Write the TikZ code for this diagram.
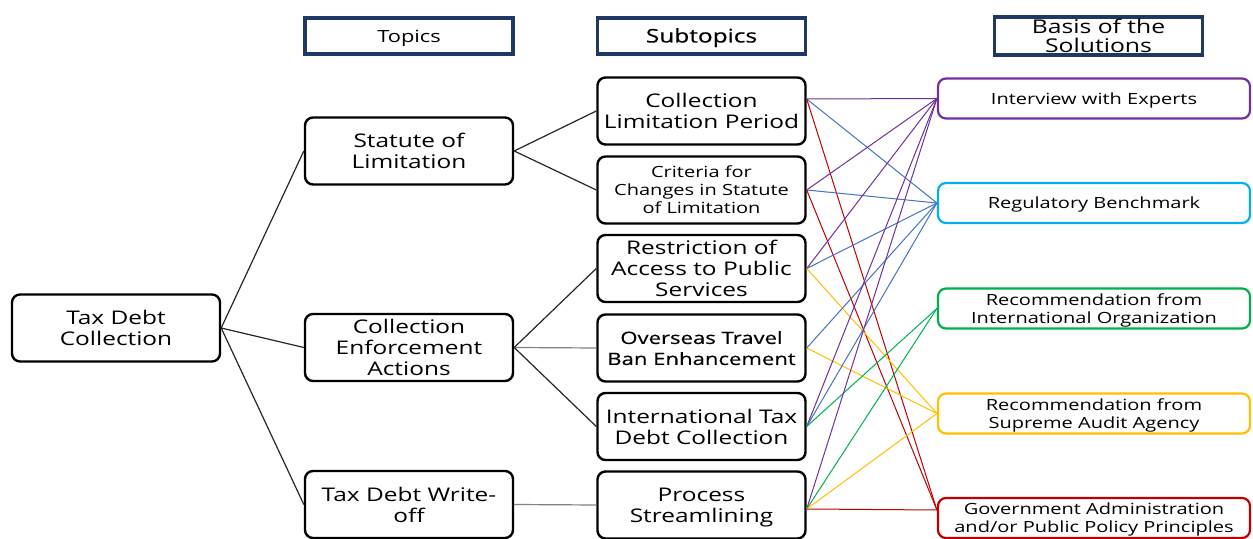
\documentclass[tikz,border=0pt]{standalone}
\usepackage{fontspec}
\setmainfont{Open Sans}[FakeStretch=1.3]
\newfontfamily\semib{Open Sans}[FakeStretch=1.3, FakeBold=0.35]
\usepackage{tikz}
\usetikzlibrary{calc}
\definecolor{navy}{HTML}{1F3864}
\definecolor{cpurple}{HTML}{7030A0}
\definecolor{cblue}{HTML}{4472C4}
\definecolor{ccyan}{HTML}{00B0F0}
\definecolor{cgreen}{HTML}{00B050}
\definecolor{cyellow}{HTML}{FFC000}
\definecolor{cred}{HTML}{C00000}

\begin{document}
\begin{tikzpicture}[x=0.5pt, y=-0.5pt,
  hdr/.style={draw=navy, line width=1.7pt, minimum width=104pt, minimum height=18pt, inner sep=1pt, align=center},
  box/.style={draw, line width=1.2pt, rounded corners=4pt, minimum width=104pt, minimum height=33.5pt, inner sep=1pt, align=center, text depth=0pt, font=\fontsize{9.4}{10.5}\selectfont},
  sol/.style={line width=1.1pt, rounded corners=4pt, minimum width=156pt, minimum height=20pt, inner sep=1pt, align=center, text depth=-0.6pt, font=\fontsize{7.7}{9}\selectfont},
  branch/.style={line width=0.6pt, black!85},
  flat/.style={line width=0.6pt, black!50},
  link/.style={line width=0.5pt}]

\useasboundingbox (0,0) rectangle (1253,539);

\node[hdr, text height=6.5pt, text depth=0pt, font=\fontsize{8.4}{10}\selectfont] (hT) at (409,36) {Topics};
\node[hdr, text height=6.5pt, text depth=0pt, font=\semib\fontsize{9.4}{10}\selectfont] (hS) at (701.5,36) {Subtopics};
\node[hdr, font=\fontsize{9.5}{9.6}\selectfont] (hB) at (1098.5,36) {Basis of the\\Solutions};

\node[box] (tdc) at (116,328) {Tax Debt\\Collection};

\node[box] (stl) at (409,151) {Statute of\\Limitation};
\node[box] (cea) at (409,347.5) {Collection\\Enforcement\\Actions};
\node[box] (tdw) at (409,504.5) {Tax Debt Write-\\off};

\node[box] (clp) at (701.5,111) {Collection\\Limitation Period};
\node[box, font=\fontsize{7.7}{9}\selectfont] (crit) at (701.5,190) {Criteria for\\Changes in Statute\\of Limitation};
\node[box] (rest) at (701.5,268.5) {Restriction of\\Access to Public\\Services};
\node[box, font=\semib\fontsize{8.5}{10.5}\selectfont] (trav) at (701.5,348) {Overseas Travel\\Ban Enhancement};
\node[box] (intl) at (701.5,426.5) {International Tax\\Debt Collection};
\node[box] (proc) at (701.5,505) {Process\\Streamlining};

\node[sol, draw=cpurple] (intv) at (1094,98.5) {Interview with Experts};
\node[sol, draw=ccyan] (reg) at (1094,203) {Regulatory Benchmark};
\node[sol, draw=cgreen] (rio) at (1094,308.5) {Recommendation from\\International Organization};
\node[sol, draw=cyellow] (rsa) at (1094,413.5) {Recommendation from\\Supreme Audit Agency};
\node[sol, draw=cred] (gov) at (1094,518) {Government Administration\\and/or Public Policy Principles};

\draw[branch] (tdc.east) -- (stl.west);
\draw[branch] (tdc.east) -- (cea.west);
\draw[branch] (tdc.east) -- (tdw.west);
\draw[branch] (stl.east) -- (clp.west);
\draw[branch] (stl.east) -- (crit.west);
\draw[branch] (cea.east) -- (rest.west);
\draw[flat] (cea.east) -- (trav.west);
\draw[branch] (cea.east) -- (intl.west);
\draw[flat] (tdw.east) -- (proc.west);

\coordinate (clpout) at ([yshift=6pt]clp.east);
\coordinate (procout) at ([yshift=-2pt]proc.east);
\coordinate (govin) at ([yshift=4pt]gov.west);

\draw[link, cpurple] (clpout) -- (intv.west);
\draw[link, cblue] (clpout) -- (reg.west);
\draw[link, cred] (clpout) -- (govin);

\draw[link, cpurple] (crit.east) -- (intv.west);
\draw[link, cblue] (crit.east) -- (reg.west);
\draw[link, cred] (crit.east) -- (govin);

\draw[link, cpurple] (rest.east) -- (intv.west);
\draw[link, cblue] (rest.east) -- (reg.west);
\draw[link, cyellow] (rest.east) -- (rsa.west);

\draw[link, cblue] (trav.east) -- (reg.west);
\draw[link, cyellow] (trav.east) -- (rsa.west);

\draw[link, cpurple] (intl.east) -- (intv.west);
\draw[link, cblue] (intl.east) -- (reg.west);
\draw[link, cgreen] (intl.east) -- (rio.west);

\draw[link, cpurple] (procout) -- (intv.west);
\draw[link, cgreen] (procout) -- (rio.west);
\draw[link, cyellow] (procout) -- (rsa.west);
\draw[link, cred] (procout) -- (govin);

\end{tikzpicture}
\end{document}
